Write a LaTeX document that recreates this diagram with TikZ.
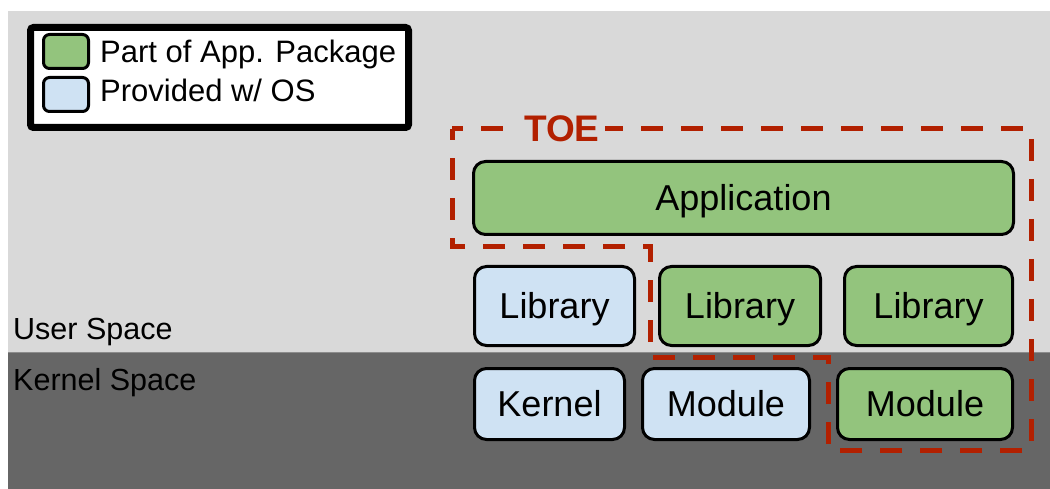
\documentclass[tikz,border=0pt]{standalone}
\usepackage{fontspec}
\setmainfont{Liberation Sans}
\definecolor{usergray}{HTML}{D9D9D9}
\definecolor{kernelgray}{HTML}{666666}
\definecolor{appgreen}{HTML}{93C47D}
\definecolor{osblue}{HTML}{CFE2F3}
\definecolor{toered}{HTML}{B22000}
\tikzset{
  boxbase/.style={draw=black, line width=3pt, rounded corners=12pt, inner sep=0pt,
    text height=25.8pt, text depth=0pt, font=\fontsize{36}{40}\selectfont},
  greenbox/.style={boxbase, fill=appgreen},
  bluebox/.style={boxbase, fill=osblue},
  swatch/.style={draw=black, line width=3pt, rounded corners=6pt, minimum width=45pt, minimum height=34pt, inner sep=0pt},
  legtext/.style={anchor=base west, inner sep=0pt, font=\fontsize{31}{34}\selectfont},
  spacetext/.style={anchor=base west, inner sep=0pt, font=\fontsize{30.5}{34}\selectfont},
  toeline/.style={draw=toered, line width=5pt, dash pattern=on 22pt off 18pt, dash phase=11pt},
}
\begin{document}
\begin{tikzpicture}[x=1pt,y=-1pt]
\useasboundingbox (0,0) rectangle (1050,489);
\fill[white] (0,0) rectangle (1050,489);
% backgrounds
\fill[usergray] (8,11) rectangle (1050,352);
\fill[kernelgray] (8,352) rectangle (1050,489);
\draw[line width=1pt, color=black!45] (8,352) -- (1050,352);
% legend
\node[draw=black, line width=7pt, fill=white, rounded corners=3pt, minimum width=378pt, minimum height=100pt, inner sep=0pt] (legend) at (219.5,77.5) {};
\node[swatch, fill=appgreen] (sw1) at (66,51.5) {};
\node[swatch, fill=osblue] (sw2) at (66,94.5) {};
\node[legtext] (lt1) at (100,63) {Part of App. Package};
\node[legtext] (lt2) at (100,102) {Provided w/ OS};
% space labels
\node[spacetext] (us) at (13,339) {User Space};
\node[spacetext] (ks) at (13,390) {Kernel Space};
% boxes
\node[greenbox, minimum width=540pt, minimum height=73pt] (app) at (743.5,198) {Application};
\node[bluebox, minimum width=160pt, minimum height=79pt] (lib1) at (554.5,306) {Library};
\node[greenbox, minimum width=161pt, minimum height=79pt] (lib2) at (740,306) {Library};
\node[greenbox, minimum width=168pt, minimum height=79pt] (lib3) at (928.5,306) {Library};
\node[bluebox, minimum width=150pt, minimum height=71pt] (kern) at (549.5,404) {Kernel};
\node[bluebox, minimum width=167pt, minimum height=71pt] (mod1) at (726,404) {Module};
\node[greenbox, minimum width=175pt, minimum height=71pt] (mod2) at (925,404) {Module};
% TOE outline
\coordinate (t1) at (452,129);
\coordinate (t2) at (1031,129);
\coordinate (t3) at (1031,450);
\coordinate (t4) at (828,450);
\coordinate (t5) at (828,357);
\coordinate (t6) at (650,357);
\coordinate (t7) at (650,247);
\coordinate (t8) at (452,247);
\draw[toeline] (t1) -- (t2) -- (t3) -- (t4) -- (t5) -- (t6) -- (t7) -- (t8) -- cycle;
\node[anchor=base west, fill=usergray, inner xsep=5pt, inner ysep=2pt, text=toered, font=\bfseries\fontsize{37}{40}\selectfont] (toe) at (519,142) {TOE};
\end{tikzpicture}
\end{document}
